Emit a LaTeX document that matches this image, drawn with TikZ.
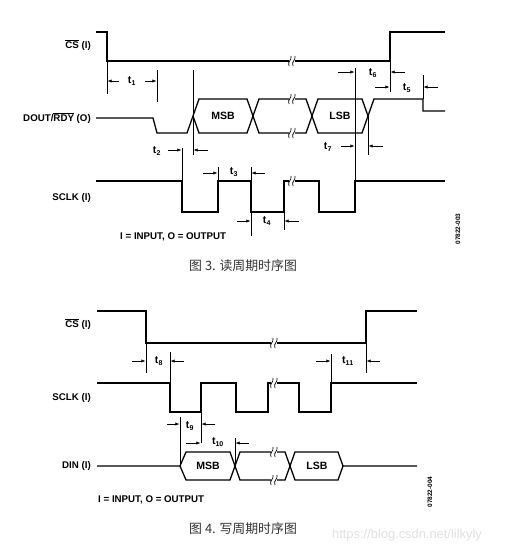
\documentclass[tikz,border=0pt]{standalone}
\usepackage{fontspec}
\setmainfont{Liberation Sans}
\newfontfamily\cjkfont{Noto Sans CJK SC}
\usetikzlibrary{arrows.meta}

\tikzset{
    sig/.style={line width=1.1pt},
    ext/.style={line width=0.5pt},
    dim/.style={line width=0.5pt, -{Latex[length=3.6pt,width=2.8pt]}},
    lbl/.style={font=\fontsize{8.3}{10}\selectfont\bfseries, anchor=east, inner sep=0pt},
    tlbl/.style={font=\fontsize{9}{10}\selectfont\bfseries, inner sep=0pt},
    note/.style={font=\fontsize{8.3}{10}\selectfont\bfseries, anchor=west, inner sep=0pt},
    capt/.style={font=\fontsize{11}{12}\selectfont\cjkfont, anchor=west, inner sep=0pt, text=black!80},
    code/.style={font=\fontsize{5.5}{6}\selectfont\bfseries, rotate=90, inner sep=0pt},
    brkmark/.pic={
        \fill[white] (-3,-4) rectangle (3,4);
        \draw[line width=0.6pt] (-3,5) .. controls (-5,0) and (0,0) .. (-1,-5);
        \draw[line width=0.6pt] (1,5) .. controls (-1,0) and (4,0) .. (3,-5);
    }
}
\newcommand{\ovl}[1]{$\overline{\mbox{#1}}$}

\begin{document}
\begin{tikzpicture}[x=0.03cm,y=-0.03cm]
    \useasboundingbox (0,0) rectangle (530,549);

    %%% read cycle
    % signal names
    \node[lbl] (rcs) at (91,45) {\ovl{CS} (I)};
    \node[lbl] (rdout) at (91,118) {DOUT/\ovl{RDY} (O)};
    \node[lbl] (rsclk) at (91,198) {SCLK (I)};

    % CS
    \draw[sig] (96,32) -- (107,32) -- (107,61) -- (390,61) -- (390,32) -- (445,32);
    \pic at (292,61) {brkmark};

    % DOUT/RDY
    \draw[sig] (96,118) -- (153,118) -- (157,133) -- (187,133) -- (199,99) -- (247,99)
        -- (259,133) -- (306,133) -- (318,99) -- (362,99) -- (368,116);
    \draw[sig] (193,116) -- (199,133) -- (247,133) -- (259,99) -- (306,99) -- (318,133)
        -- (362,133) -- (374,99) -- (423,99) -- (423,111) -- (445,111);
    \pic at (292,99) {brkmark};
    \pic at (292,133) {brkmark};
    \node[tlbl] (rmsb) at (223,116) {MSB};
    \node[tlbl] (rlsb) at (340,116) {LSB};

    % SCLK
    \draw[sig] (96,181) -- (182,181) -- (182,212) -- (218,212) -- (218,181) -- (251,181)
        -- (251,212) -- (284,212) -- (284,181) -- (319,181) -- (319,212) -- (355,212)
        -- (355,181) -- (445,181);
    \pic at (292,181) {brkmark};

    % timing marks
    \draw[ext] (107,61) -- (107,94);
    \draw[ext] (157,70) -- (157,102);
    \draw[dim] (119,81) -- (107.5,81);
    \draw[dim] (145,81) -- (156.5,81);
    \node[tlbl] (t1) at (132,81) {t\textsubscript{1}};

    \draw[ext] (193,70) -- (193,155);
    \draw[ext] (182,148) -- (182,181);
    \draw[dim] (168,150) -- (181.5,150);
    \draw[dim] (208,150) -- (193.5,150);
    \node[tlbl] (t2) at (157,151) {t\textsubscript{2}};

    \draw[ext] (218,167) -- (218,181);
    \draw[ext] (251,167) -- (251,181);
    \draw[dim] (203,173) -- (217.5,173);
    \draw[dim] (265,173) -- (251.5,173);
    \node[tlbl] (t3) at (234,172) {t\textsubscript{3}};

    \draw[ext] (251,212) -- (251,236);
    \draw[ext] (284,212) -- (284,230);
    \draw[dim] (237,221) -- (250.5,221);
    \draw[dim] (299,221) -- (284.5,221);
    \node[tlbl] (t4) at (267,221) {t\textsubscript{4}};

    \draw[ext] (390,61) -- (390,92);
    \draw[ext] (423,75) -- (423,99);
    \draw[dim] (375,87) -- (389.5,87);
    \draw[dim] (438,87) -- (423.5,87);
    \node[tlbl] (t5) at (407,88) {t\textsubscript{5}};

    \draw[ext] (355,68) -- (355,181);
    \draw[dim] (338,72) -- (354.5,72);
    \draw[dim] (405,72) -- (390.5,72);
    \node[tlbl] (t6) at (373,73) {t\textsubscript{6}};

    \draw[ext] (368,116) -- (368,155);
    \draw[dim] (341,146) -- (354.5,146);
    \draw[dim] (383,146) -- (368.5,146);
    \node[tlbl] (t7) at (328,147) {t\textsubscript{7}};

    \node[note] (rnote) at (120,237) {I = INPUT, O = OUTPUT};
    \node[capt] (rcapt) at (189,266) {图 3. 读周期时序图};
    \node[code] (rcode) at (458,229) {07822-003};

    %%% write cycle
    % signal names
    \node[lbl] (wcs) at (91,324) {\ovl{CS} (I)};
    \node[lbl] (wsclk) at (91,398) {SCLK (I)};
    \node[lbl] (wdin) at (91,466) {DIN (I)};

    % CS
    \draw[sig] (97,311) -- (146,311) -- (146,343) -- (366,343) -- (366,311) -- (417,311);
    \pic at (274,343) {brkmark};

    % SCLK
    \draw[sig] (97,383) -- (170,383) -- (170,412) -- (201,412) -- (201,383) -- (236,383)
        -- (236,412) -- (268,412) -- (268,383) -- (299,383) -- (299,412) -- (331,412)
        -- (331,383) -- (417,383);
    \pic at (274,383) {brkmark};

    % DIN
    \draw[sig] (97,466) -- (180,466) -- (186,452) -- (230,452) -- (240,480) -- (285,480)
        -- (295,452) -- (338,452) -- (343,466) -- (417,466);
    \draw[sig] (180,466) -- (186,480) -- (230,480) -- (240,452) -- (285,452) -- (295,480)
        -- (338,480) -- (343,466);
    \pic at (274,452) {brkmark};
    \pic at (274,480) {brkmark};
    \node[tlbl] (wmsb) at (208,466) {MSB};
    \node[tlbl] (wlsb) at (317,466) {LSB};

    % timing marks
    \draw[ext] (146,343) -- (146,373);
    \draw[ext] (170,352) -- (170,383);
    \draw[dim] (132,361) -- (145.5,361);
    \draw[dim] (184,361) -- (170.5,361);
    \node[tlbl] (t8) at (159,361) {t\textsubscript{8}};

    \draw[ext] (180,417) -- (180,466);
    \draw[ext] (201,412) -- (201,443);
    \draw[dim] (167,424) -- (179.5,424);
    \draw[dim] (215,424) -- (201.5,424);
    \node[tlbl] (t9) at (190,426) {t\textsubscript{9}};

    \draw[ext] (235,438) -- (235,466);
    \draw[dim] (186,443) -- (200.5,443);
    \draw[dim] (249,443) -- (235.5,443);
    \node[tlbl] (t10) at (218,442) {t\textsubscript{10}};

    \draw[ext] (331,354) -- (331,383);
    \draw[ext] (366,343) -- (366,373);
    \draw[dim] (316,361) -- (330.5,361);
    \draw[dim] (380,361) -- (366.5,361);
    \node[tlbl] (t11) at (348,361) {t\textsubscript{11}};

    \node[note] (wnote) at (98,500) {I = INPUT, O = OUTPUT};
    \node[capt] (wcapt) at (189,529) {图 4. 写周期时序图};
    \node[code] (wcode) at (430,492) {07822-004};
    \node[font=\fontsize{11}{12}\selectfont, text=black!12, inner sep=0pt] (wmark) at (407,535) {https://blog.csdn.net/lilkyly};
\end{tikzpicture}
\end{document}
